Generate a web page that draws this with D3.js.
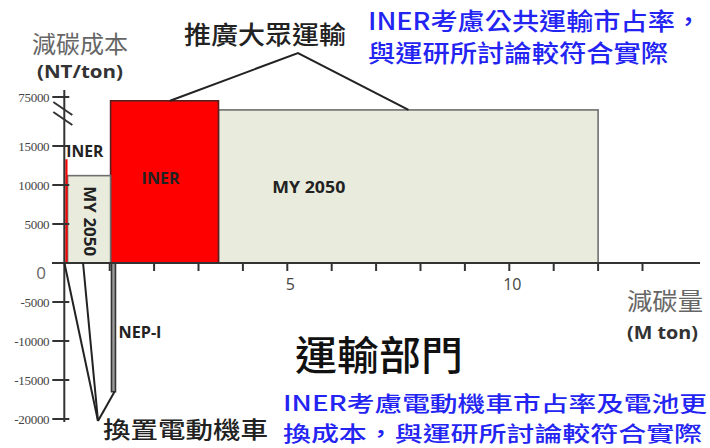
<!DOCTYPE html>
<html lang="zh-Hant-TW"><head><meta charset="utf-8">
<script src="https://cdn.jsdelivr.net/npm/d3@7"></script>
<style>
html,body{margin:0;padding:0;background:#fff;}
svg{display:block;}
</style></head>
<body>
<svg id="c" width="710" height="448" lang="zh-Hant-TW"></svg>
<script>
// ---- data ----
const barLabels = ["INER", "MY 2050", "INER", "MY 2050", "NEP-I"];
const barKinds  = ["iner", "my", "iner", "my", "nep"];
const barStart  = [0.0, 0.05, 1.02, 3.45, 1.04];
const barEnd    = [0.05, 1.02, 3.45, 12.0, 1.13];
const barValue  = [13300, 11200, 74500, 73300, -16500];
const yTicks = [75000, 15000, 10000, 5000, -5000, -10000, -15000, -20000];
const xTicks = [1,2,3,4,5,6,7,8,9,10,11,12,13];
const xTickLabels = {5: "5", 10: "10"};

const CJK = "'Noto Sans CJK TC','Noto Sans CJK SC',sans-serif";
const LAT = "'Open Sans','Liberation Sans',sans-serif";

const svg = d3.select("#c");
const x = d3.scaleLinear().domain([0, 13]).range([65.3, 65.3 + 13 * 44.4]);
// broken axis: lower segment linear, upper segment compressed
const y = d3.scaleLinear().domain([-20000, 15000, 70000, 75000]).range([419, 146, 135, 97]);

const fill = {iner: "#ff0000", my: "#e9ecdc", nep: "#9a9a9a"};
const stroke = {iner: "#5a2020", my: "#6e6e6e", nep: "#333"};

const bars = barLabels.map((l, i) => ({label: l, kind: barKinds[i], x0: barStart[i], x1: barEnd[i], v: barValue[i]}));
const order = [3, 2, 1, 0, 4];

svg.append("g").selectAll("rect").data(order.map(i => bars[i])).join("rect")
  .attr("x", d => x(d.x0))
  .attr("width", d => x(d.x1) - x(d.x0))
  .attr("y", d => Math.min(y(d.v), y(0)))
  .attr("height", d => Math.abs(y(d.v) - y(0)))
  .attr("fill", d => fill[d.kind])
  .attr("stroke", d => stroke[d.kind])
  .attr("stroke-width", d => d.kind === "iner" && d.x1 - d.x0 < 0.2 ? 0 : 1.6);

// ---- axes ----
const ax = svg.append("g").attr("stroke", "#333").attr("stroke-width", 2);
const x0 = x(0) - 1;
ax.append("line").attr("x1", x0).attr("x2", x0).attr("y1", 90).attr("y2", y(-20000) + 3);
ax.append("line").attr("x1", 52).attr("x2", 700).attr("y1", y(0)).attr("y2", y(0));
ax.selectAll(".yt").data(yTicks).join("line")
  .attr("x1", x0 - 12).attr("x2", x0 + 5)
  .attr("y1", d => y(d)).attr("y2", d => y(d));
ax.selectAll(".xt").data(xTicks).join("line")
  .attr("x1", d => x(d)).attr("x2", d => x(d))
  .attr("y1", y(0)).attr("y2", y(0) + 8);
// break marks
ax.append("line").attr("x1", x0 - 11).attr("y1", y(75000) + 5).attr("x2", x0 + 8).attr("y2", y(75000) + 18);
ax.append("line").attr("x1", x0 - 11).attr("y1", y(75000) + 15).attr("x2", x0 + 8).attr("y2", y(75000) + 28);

svg.append("g").selectAll("text").data(yTicks).join("text")
  .attr("x", x0 - 15).attr("y", d => y(d)).attr("dy", "0.35em")
  .attr("text-anchor", "end")
  .attr("font-family", "'Liberation Serif',serif").attr("font-size", 13).attr("fill", "#444")
  .attr("letter-spacing", -0.3)
  .text(d => d);
svg.append("text").attr("x", 41).attr("y", y(0) + 10).attr("dy", "0.35em").attr("text-anchor", "middle")
  .attr("font-family", LAT).attr("font-size", 17).attr("fill", "#666").text("0");

svg.append("g").selectAll("text").data(xTicks.filter(d => xTickLabels[d])).join("text")
  .attr("x", d => x(d) + 3).attr("y", y(0) + 27).attr("text-anchor", "middle")
  .attr("font-family", LAT).attr("font-size", 16).attr("fill", "#444")
  .text(d => xTickLabels[d]);

// ---- bar labels ----
function T(txt, cx, cy, opts) {
  const t = svg.append("text").attr("x", cx).attr("y", cy)
    .attr("dominant-baseline", "central")
    .attr("text-anchor", opts.anchor || "start")
    .attr("font-family", opts.family || LAT)
    .attr("font-size", opts.size)
    .attr("font-weight", opts.weight || 400)
    .attr("fill", opts.fill || "#222")
    .text(txt);
  if (opts.len) t.attr("textLength", opts.len).attr("lengthAdjust", "spacingAndGlyphs");
  if (opts.rot) t.attr("transform", `rotate(${opts.rot},${cx},${cy})`);
  return t;
}
const b = bars;
T(b[0].label, x(b[0].x0) + 1, 151, {size: 16, weight: 700, len: 37});
T(b[1].label, (x(b[1].x0) + x(b[1].x1)) / 2 + 1, (y(b[1].v) + y(0)) / 2 + 2, {size: 16, weight: 700, anchor: "middle", rot: 90, len: 70});
T(b[2].label, x(b[2].x0) + 31, 178, {size: 16, weight: 700, len: 38});
T(b[3].label, x(5) - 15, 187, {size: 16, weight: 700, len: 73});
T(b[4].label, x(b[4].x1) + 3, 332, {size: 16, weight: 700, len: 43});

// ---- callouts ----
const cl = svg.append("g").attr("stroke", "#222").attr("stroke-width", 2).attr("fill", "none");
const apexTop = [298, 53];
cl.append("polyline").attr("points", [[x(2.36), y(b[2].v)], apexTop, [x(7.73), y(b[3].v)]].map(p => p.join(",")).join(" "));
const apexBot = [98, 421];
cl.append("line").attr("x1", x(-0.02)).attr("y1", y(0)).attr("x2", apexBot[0]).attr("y2", apexBot[1]);
cl.append("line").attr("x1", x(0.4)).attr("y1", y(0)).attr("x2", apexBot[0]).attr("y2", apexBot[1]);
cl.append("line").attr("x1", x(b[4].x1) - 1).attr("y1", y(b[4].v)).attr("x2", apexBot[0]).attr("y2", apexBot[1]);

// ---- texts ----
T("減碳成本", 32, 42, {family: CJK, size: 24, fill: "#666", len: 96});
T("(NT/ton)", 37, 71, {size: 18, weight: 700, fill: "#333", len: 86});
T("減碳量", 627, 299, {family: CJK, size: 24, fill: "#666", len: 76});
T("(M ton)", 627, 332, {size: 18, weight: 700, fill: "#333", len: 71});
T("推廣大眾運輸", 184, 33, {family: CJK, size: 25, fill: "#222", weight: 500, len: 162});
T("運輸部門", 295, 353, {family: CJK, size: 40, fill: "#111", weight: 500, len: 168});
T("換置電動機車", 103, 428, {family: CJK, size: 23, fill: "#222", weight: 500, len: 165});
const BLUE = "#2424f2";
T("INER考慮公共運輸市占率，", 368, 19, {family: CJK, size: 24, fill: BLUE, weight: 500, len: 334});
T("與運研所討論較符合實際", 368, 51, {family: CJK, size: 24, fill: BLUE, weight: 500, len: 300});
T("INER考慮電動機車市占率及電池更", 283, 402, {family: CJK, size: 21, fill: BLUE, weight: 500, len: 424});
T("換成本，與運研所討論較符合實際", 283, 432, {family: CJK, size: 21, fill: BLUE, weight: 500, len: 419});
</script>
</body></html>
